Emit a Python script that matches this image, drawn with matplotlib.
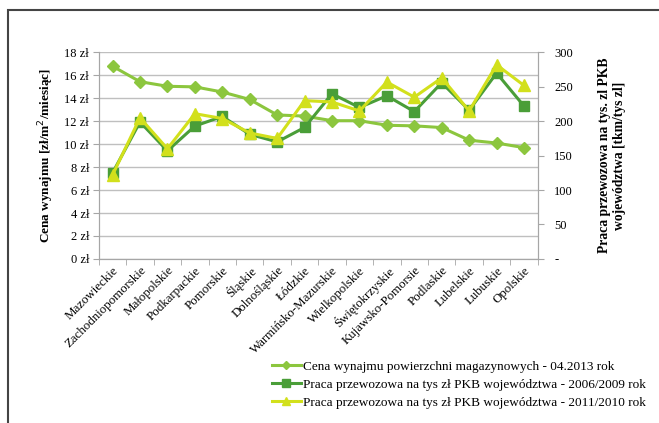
import matplotlib
matplotlib.use("Agg")
import matplotlib.pyplot as plt
from matplotlib.patches import Rectangle
from matplotlib.ticker import FuncFormatter, MultipleLocator, FixedLocator

plt.rcParams['font.family'] = ['Liberation Serif', 'DejaVu Serif']

# Data
regions = ["Mazowieckie", "Zachodniopomorskie", "Małopolskie", "Podkarpackie",
           "Pomorskie", "Śląskie", "Dolnośląskie", "Łódzkie",
           "Warmińsko-Mazurskie", "Wielkopolskie", "Świętokrzyskie",
           "Kujawsko-Pomorsie", "Podlaskie", "Lubelskie", "Lubuskie", "Opolskie"]
rent_2013 = [16.8, 15.45, 15.05, 15.0, 14.55, 13.9, 12.55, 12.45,
             12.05, 12.05, 11.65, 11.6, 11.45, 10.35, 10.1, 9.7]
work_2006_2009 = [125, 199, 157, 193, 207, 181, 170, 191,
                  240, 220, 237, 214, 256, 216, 270, 222]
work_2011_2010 = [122, 205, 160, 211, 204, 183, 175, 230,
                  228, 215, 257, 235, 263, 215, 282, 252]

labels = ["Cena wynajmu powierzchni magazynowych - 04.2013 rok",
          "Praca przewozowa na tys zł PKB województwa - 2006/2009 rok",
          "Praca przewozowa na tys zł PKB województwa - 2011/2010 rok"]

c_rent = '#8cc63e'
c_old = '#4a9e38'
c_new = '#d2e01c'
grey = '#a6a6a6'

fig = plt.figure(figsize=(6.59, 4.23), dpi=100)
ax = fig.add_axes([0.150, 0.388, 0.666, 0.488])
ax2 = ax.twinx()

x = list(range(len(regions)))
l1, = ax.plot(x, rent_2013, color=c_rent, lw=2.2, marker='D', ms=6, zorder=3)
l2, = ax2.plot(x, work_2006_2009, color=c_old, lw=2.2, marker='s', ms=7.5, zorder=3)
l3, = ax2.plot(x, work_2011_2010, color=c_new, lw=2.2, marker='^', ms=8.5, zorder=4)

ax.set_xlim(-0.5, len(regions) - 0.5)
ax.set_ylim(0, 18)
ax2.set_ylim(0, 300)
ax.yaxis.set_major_locator(MultipleLocator(2))
ax2.yaxis.set_major_locator(MultipleLocator(50))
ax.yaxis.set_major_formatter(FuncFormatter(lambda v, p: f"{int(v)} zł"))
ax2.yaxis.set_major_formatter(FuncFormatter(lambda v, p: "-" if v == 0 else f"{int(v)}"))

ax.set_xticks(x)
ax.set_xticklabels(regions, rotation=45, ha='right', rotation_mode='anchor', fontsize=9.3)
ax.xaxis.set_minor_locator(FixedLocator([i - 0.5 for i in range(len(regions) + 1)]))
ax.tick_params(axis='x', which='major', length=0, pad=4)
ax.tick_params(axis='x', which='minor', length=4, color=grey)
ax.tick_params(axis='y', length=4, color=grey, labelsize=9, pad=3)
ax2.tick_params(axis='y', length=4, color=grey, labelsize=9, pad=8)

ax.grid(axis='y', color='#bfbfbf', lw=1)
ax.set_axisbelow(True)
for a in (ax, ax2):
    a.spines['top'].set_visible(False)
    for s in ('left', 'right', 'bottom'):
        a.spines[s].set_color(grey)

ax.set_ylabel("Cena wynajmu [zł/m$^2$/miesiąc]", fontsize=9.5, fontweight='bold', labelpad=6)
ax2.set_ylabel("Praca przewozowa na tys. zl PKB\nwojewództwa [tkm/tys zl]",
               fontsize=9.8, fontweight='bold', rotation=90, va='bottom')
ax2.yaxis.set_label_coords(1.2, 0.5)

fig.legend([l1, l2, l3], labels, loc='upper left', bbox_to_anchor=(0.412, 0.148),
           frameon=False, fontsize=9.5, handlelength=2.2, handletextpad=0.2,
           labelspacing=0.45, borderpad=0, borderaxespad=0, markerscale=0.7)

# outer frame of the figure
fig.patches.append(Rectangle((0.012, -0.1), 1.2, 1.076, transform=fig.transFigure,
                             fill=False, ec='#444444', lw=1.5))

fig.savefig("out.png", dpi=100)
